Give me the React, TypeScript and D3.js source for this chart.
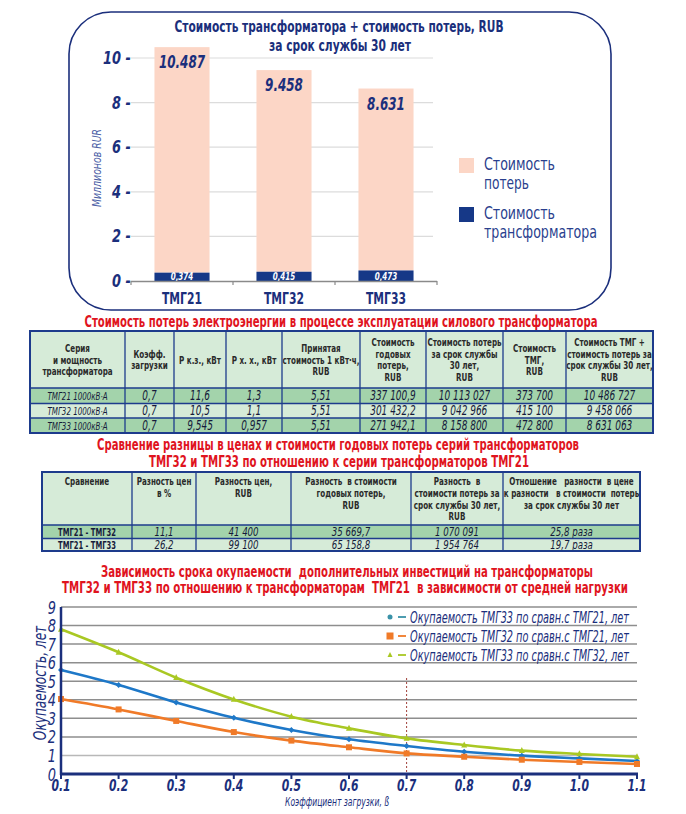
import React from "react";
import * as d3 from "d3";

const FONT = "'DejaVu Sans Condensed', 'DejaVu Sans', sans-serif";
const NAVY = "#1b2f7c";
const RED = "#e0141e";

// ---------- bar chart data ----------
const barCategories = ["ТМГ21", "ТМГ32", "ТМГ33"];
const transformerCost = [0.374, 0.415, 0.473];
const lossCost = [10.113, 9.043, 8.158];
const totalLabels = ["10.487", "9.458", "8.631"];
const transformerLabels = ["0,374", "0,415", "0,473"];
const barTicks = [0, 2, 4, 6, 8, 10];
const barLegend = [
  { lines: ["Стоимость", "потерь"], widths: [71, 45], color: "#fcd6c6" },
  { lines: ["Стоимость", "трансформатора"], widths: [71, 113], color: "#163887" },
];

// ---------- table 1 ----------
const table1Header = [
  ["Серия", "и мощность", "трансформатора"],
  ["Коэфф.", "загрузки"],
  ["Р к.з., кВт"],
  ["Р х. х., кВт"],
  ["Принятая", "стоимость 1 кВт·ч,", "RUB"],
  ["Стоимость", "годовых", "потерь,", "RUB"],
  ["Стоимость потерь", "за срок службы", "30 лет,", "RUB"],
  ["Стоимость", "ТМГ,", "RUB"],
  ["Стоимость ТМГ +", "стоимость потерь за", "срок службы 30 лет,", "RUB"],
];
const table1Rows = [
  ["ТМГ21 1000кВ·А", "0,7", "11,6", "1,3", "5,51", "337 100,9", "10 113 027", "373 700", "10 486 727"],
  ["ТМГ32 1000кВ·А", "0,7", "10,5", "1,1", "5,51", "301 432,2", "9 042 966", "415 100", "9 458 066"],
  ["ТМГ33 1000кВ·А", "0,7", "9,545", "0,957", "5,51", "271 942,1", "8 158 800", "472 800", "8 631 063"],
];

// ---------- table 2 ----------
const table2Header = [
  ["Сравнение"],
  ["Разность цен", "в %"],
  ["Разность цен,", "RUB"],
  ["Разность  в стоимости", "годовых потерь,", "RUB"],
  ["Разность  в", "стоимости потерь за", "срок службы 30 лет,", "RUB"],
  ["Отношение   разности  в цене", "к разности   в стоимости  потерь", "за срок службы 30 лет"],
];
const table2Rows = [
  ["ТМГ21 - ТМГ32", "11,1", "41 400", "35 669,7", "1 070 091", "25,8 раза"],
  ["ТМГ21 - ТМГ33", "26,2", "99 100", "65 158,8", "1 954 764", "19,7 раза"],
];

// ---------- line chart ----------
const loadFactors = [0.1, 0.2, 0.3, 0.4, 0.5, 0.6, 0.7, 0.8, 0.9, 1.0, 1.1];
const xTickLabels = ["0.1", "0.2", "0.3", "0.4", "0.5", "0.6", "0.7", "0.8", "0.9", "1.0", "1.1"];
const payback33vs21 = [5.6, 4.8, 3.86, 3.03, 2.37, 1.87, 1.51, 1.2, 0.99, 0.84, 0.7];
const payback32vs21 = [4.04, 3.48, 2.86, 2.26, 1.8, 1.44, 1.11, 0.93, 0.77, 0.65, 0.54];
const payback33vs32 = [7.8, 6.56, 5.19, 4.02, 3.09, 2.46, 1.92, 1.56, 1.26, 1.08, 0.93];
const yTicks = [0, 1, 2, 3, 4, 5, 6, 7, 8, 9];
const lineSeries = [
  { name: "Окупаемость ТМГ33 по сравн.с ТМГ21, лет", values: payback33vs21, color: "#1e78c8", legendColor: "#3a92a8", marker: "diamond" },
  { name: "Окупаемость ТМГ32 по сравн.с ТМГ21, лет", values: payback32vs21, color: "#f07a28", legendColor: "#f07a28", marker: "square" },
  { name: "Окупаемость ТМГ33 по сравн.с ТМГ32, лет", values: payback33vs32, color: "#a9c823", legendColor: "#a9c823", marker: "triangle" },
];

// narrow text helper: horizontally condensed text
function NT(props: any) {
  const { x, y, sx = 0.77, rotate, children, anchor = "start", ...rest } = props;
  const tr = `translate(${x},${y})${rotate ? ` rotate(${rotate})` : ""} scale(${sx},1)`;
  return (
    <text transform={tr} textAnchor={anchor} fontFamily={FONT} style={{ whiteSpace: "pre" }} {...rest}>
      {children}
    </text>
  );
}

// fitted text: exact width
function FT(props: any) {
  const { x, y, w, children, anchor = "middle", ...rest } = props;
  return (
    <text x={x} y={y} textAnchor={anchor} textLength={w} lengthAdjust="spacingAndGlyphs" fontFamily={FONT} style={{ whiteSpace: "pre" }} {...rest}>
      {children}
    </text>
  );
}

function BarChart() {
  const y = d3.scaleLinear().domain([0, 10]).range([281, 58]);
  const x = d3.scaleBand().domain(barCategories).range([131, 437]).paddingInner(0.46).paddingOuter(0.23);
  const bw = x.bandwidth();
  return (
    <g>
      <rect x={69} y={12} width={542} height={298} rx={42} ry={42} fill="#fff" stroke={NAVY} strokeWidth={1.6} />
      <FT x={339} y={32} w={329} fontWeight="bold" fontSize={15} fill={NAVY}>
        Стоимость трансформатора + стоимость потерь, RUB
      </FT>
      <FT x={340} y={51} w={142} fontWeight="bold" fontSize={15} fill={NAVY}>
        за срок службы 30 лет
      </FT>
      {barTicks.map((t) => (
        <g key={t}>
          {t > 0 && <line x1={131} x2={433} y1={y(t)} y2={y(t)} stroke="#dcdcdc" strokeWidth={1.2} />}
          <NT x={131} y={y(t) + 6} sx={0.8} anchor="end" fontWeight="bold" fontStyle="italic" fontSize={18} fill={NAVY}>
            {t} -
          </NT>
        </g>
      ))}
      <NT x={101} y={168} rotate={-90} sx={0.8} anchor="middle" fontStyle="italic" fontSize={13} fill="#4d5fa6">
        Миллионов RUR
      </NT>
      {barCategories.map((c, i) => {
        const x0 = x(c) as number;
        const yT = y(transformerCost[i]);
        const yL = y(transformerCost[i] + lossCost[i]);
        return (
          <g key={c}>
            <rect x={x0} y={yL} width={bw} height={yT - yL} fill="#fcd6c6" />
            <rect x={x0} y={yT} width={bw} height={y(0) - yT} fill="#163887" />
            <NT x={x0 + bw / 2} y={yL + 21} sx={0.74} anchor="middle" fontWeight="bold" fontStyle="italic" fontSize={18} fill={NAVY}>
              {totalLabels[i]}
            </NT>
            <NT x={x0 + bw / 2} y={y(0) - 1.5} sx={0.8} anchor="middle" fontWeight="bold" fontStyle="italic" fontSize={10} fill="#fff">
              {transformerLabels[i]}
            </NT>
            <NT x={x0 + bw / 2} y={304} sx={0.8} anchor="middle" fontWeight="bold" fontSize={15} fill={NAVY}>
              {c}
            </NT>
          </g>
        );
      })}
      <line x1={131} x2={437} y1={281.5} y2={281.5} stroke="#8a8a8a" strokeWidth={1.3} />
      {[131, 233, 335, 437].map((tx) => (
        <line key={tx} x1={tx} x2={tx} y1={281} y2={285} stroke="#8a8a8a" strokeWidth={1.2} />
      ))}
      {barLegend.map((l, i) => (
        <g key={i}>
          <rect x={459} y={158 + i * 49} width={15} height={15} fill={l.color} />
          {l.lines.map((ln, j) => (
            <FT key={j} x={484} y={170 + i * 49 + j * 19} w={l.widths[j]} anchor="start" fontSize={17} fill="#2a3f8e">
              {ln}
            </FT>
          ))}
        </g>
      ))}
    </g>
  );
}

function Table(props: any) {
  const { cols, top, headerBottom, rowEdges, header, rows } = props;
  const left = cols[0];
  const right = cols[cols.length - 1];
  const bottom = rowEdges[rowEdges.length - 1];
  const lh = 11.8;
  return (
    <g>
      <rect x={left} y={top} width={right - left} height={headerBottom - top} fill="#d6ebd8" />
      {rows.map((r: string[], i: number) => (
        <rect key={i} x={left} y={rowEdges[i]} width={right - left} height={rowEdges[i + 1] - rowEdges[i]} fill={props.rowFills[i]} />
      ))}
      {header.map((lines: string[], ci: number) => {
        const cx = (cols[ci] + cols[ci + 1]) / 2;
        const startY =
          props.headerMode === "center"
            ? (top + headerBottom) / 2 - ((lines.length - 1) * lh) / 2 + 4
            : top + 13;
        return lines.map((ln, li) => (
          <NT key={ci + "-" + li} x={cx} y={startY + li * lh} sx={0.76} anchor="middle" fontWeight="bold" fontSize={props.headerFont} fill="#2a2a2a">
            {ln}
          </NT>
        ));
      })}
      {rows.map((r: string[], ri: number) =>
        r.map((v, ci) => {
          const cx = (cols[ci] + cols[ci + 1]) / 2;
          const cy = (rowEdges[ri] + rowEdges[ri + 1]) / 2;
          const first = ci === 0;
          return (
            <NT
              key={ri + "-" + ci}
              x={cx}
              y={cy + (first ? 4 : 4.5)}
              sx={first ? 0.72 : 0.74}
              anchor="middle"
              fontStyle={first && !props.firstColItalic ? "normal" : "italic"}
              fontWeight={first && !props.firstColItalic ? "bold" : "normal"}
              fontSize={first ? props.firstColFont : props.valueFont}
              fill="#151a3a"
            >
              {v}
            </NT>
          );
        })
      )}
      {cols.slice(1, -1).map((cx: number) => (
        <line key={cx} x1={cx} x2={cx} y1={top} y2={bottom} stroke="#1d3b8c" strokeWidth={1.3} />
      ))}
      {[headerBottom, ...rowEdges.slice(1, -1)].map((ry: number) => (
        <line key={ry} x1={left} x2={right} y1={ry} y2={ry} stroke="#1d3b8c" strokeWidth={1.5} />
      ))}
      <rect x={left} y={top} width={right - left} height={bottom - top} fill="none" stroke="#1d3b8c" strokeWidth={2} />
    </g>
  );
}

function LineChart() {
  const x = d3.scaleLinear().domain([0.1, 1.1]).range([61, 637]);
  const y = d3.scaleLinear().domain([0, 9]).range([774, 607]);
  const line = d3
    .line<number>()
    .x((_, i) => x(loadFactors[i]))
    .y((d) => y(d))
    .curve(d3.curveMonotoneX);
  const marker = (type: string, cx: number, cy: number, color: string, s: number, key: string) => {
    if (type === "square") return <rect key={key} x={cx - s} y={cy - s} width={2 * s} height={2 * s} fill={color} />;
    if (type === "triangle")
      return <path key={key} d={`M${cx},${cy - s * 1.2}L${cx + s},${cy + s * 0.8}L${cx - s},${cy + s * 0.8}Z`} fill={color} />;
    if (type === "circle") return <circle key={key} cx={cx} cy={cy} r={s} fill={color} />;
    return <path key={key} d={`M${cx},${cy - s}L${cx + s},${cy}L${cx},${cy + s}L${cx - s},${cy}Z`} fill={color} />;
  };
  return (
    <g>
      {yTicks.map((t) => (
        <g key={t}>
          {t > 0 && <line x1={61} x2={637} y1={y(t)} y2={y(t)} stroke={t === 1 ? "#b8b8b8" : "#8e8e8e"} strokeWidth={1.5} />}
          <NT x={56} y={y(t) + 6.5} sx={0.8} anchor="end" fontStyle="italic" fontSize={18} fill={NAVY}>
            {t}
          </NT>
        </g>
      ))}
      <line x1={x(0.7)} x2={x(0.7)} y1={678} y2={774} stroke="#a0403a" strokeWidth={1} strokeDasharray="2,2" />
      {lineSeries.map((s) => (
        <g key={s.name}>
          <path d={line(s.values) || ""} fill="none" stroke={s.color} strokeWidth={2.6} />
          {s.values.map((v, i) => marker(s.marker, x(loadFactors[i]), y(v), s.color, 3, s.name + i))}
        </g>
      ))}
      <line x1={61} x2={61} y1={607} y2={775} stroke={NAVY} strokeWidth={2.5} />
      <line x1={60} x2={638} y1={774} y2={774} stroke={NAVY} strokeWidth={2.8} />
      {loadFactors.map((lf, i) => (
        <g key={lf}>
          <line x1={x(lf)} x2={x(lf)} y1={774} y2={779} stroke={NAVY} strokeWidth={2} />
          <NT x={x(lf)} y={791} sx={0.75} anchor="middle" fontWeight="bold" fontStyle="italic" fontSize={16} fill={NAVY}>
            {xTickLabels[i]}
          </NT>
        </g>
      ))}
      <FT x={337} y={806} w={104} fontStyle="italic" fontSize={12} fill={NAVY}>
        Коэффициент загрузки, ß
      </FT>
      <NT x={46} y={683} rotate={-90} sx={0.75} anchor="middle" fontStyle="italic" fontSize={18} fill={NAVY}>
        Окупаемость, лет
      </NT>
      {lineSeries.map((s, i) => {
        const ly = 617 + i * 19;
        return (
          <g key={s.name + "leg"}>
            {marker(s.marker === "diamond" ? "circle" : s.marker, 390, ly, s.legendColor, s.marker === "square" ? 3.5 : 2.5, "lm" + i)}
            <line x1={398} x2={406} y1={ly} y2={ly} stroke={s.legendColor} strokeWidth={1.8} />
            <FT x={410} y={ly + 5.5} w={219} anchor="start" fontStyle="italic" fontSize={15} fill={NAVY}>
              {s.name}
            </FT>
          </g>
        );
      })}
    </g>
  );
}

export default function App() {
  return (
    <svg width={686} height={814} style={{ position: "absolute", left: 0, top: 0, background: "#fff" }}>
      <rect x={0} y={0} width={686} height={814} fill="#fff" />
      <BarChart />
      <FT x={341} y={327} w={513} fontWeight="bold" fontSize={15} fill={RED}>
        Стоимость потерь электроэнергии в процессе эксплуатации силового трансформатора
      </FT>
      <Table
        cols={[30, 125, 174, 226, 282, 360, 426, 503, 566, 653]}
        top={331}
        headerBottom={388}
        rowEdges={[388, 403.5, 418, 433]}
        header={table1Header}
        rows={table1Rows}
        headerMode="center"
        headerFont={10.5}
        firstColItalic={true}
        firstColFont={11}
        valueFont={13.5}
        rowFills={["#a3d3ab", "#d6ebd8", "#a3d3ab"]}
      />
      <FT x={338} y={450} w={482} fontWeight="bold" fontSize={15} fill={RED}>
        Сравнение разницы в ценах и стоимости годовых потерь серий трансформаторов
      </FT>
      <FT x={339} y={467} w={380} fontWeight="bold" fontSize={15} fill={RED}>
        ТМГ32 и ТМГ33 по отношению к серии трансформаторов ТМГ21
      </FT>
      <Table
        cols={[42, 132, 196, 291, 411, 503, 640]}
        top={472}
        headerBottom={525}
        rowEdges={[525, 538.5, 551]}
        header={table2Header}
        rows={table2Rows}
        headerMode="top"
        headerFont={10.5}
        firstColItalic={false}
        firstColFont={10.5}
        valueFont={13}
        rowFills={["#a3d3ab", "#d6ebd8"]}
      />
      <FT x={347} y={577} w={492} fontWeight="bold" fontSize={15} fill={RED}>
        Зависимость срока окупаемости  дополнительных инвестиций на трансформаторы
      </FT>
      <FT x={345} y={593} w={566} fontWeight="bold" fontSize={15} fill={RED}>
        ТМГ32 и ТМГ33 по отношению к трансформаторам  ТМГ21  в зависимости от средней нагрузки
      </FT>
      <LineChart />
    </svg>
  );
}
